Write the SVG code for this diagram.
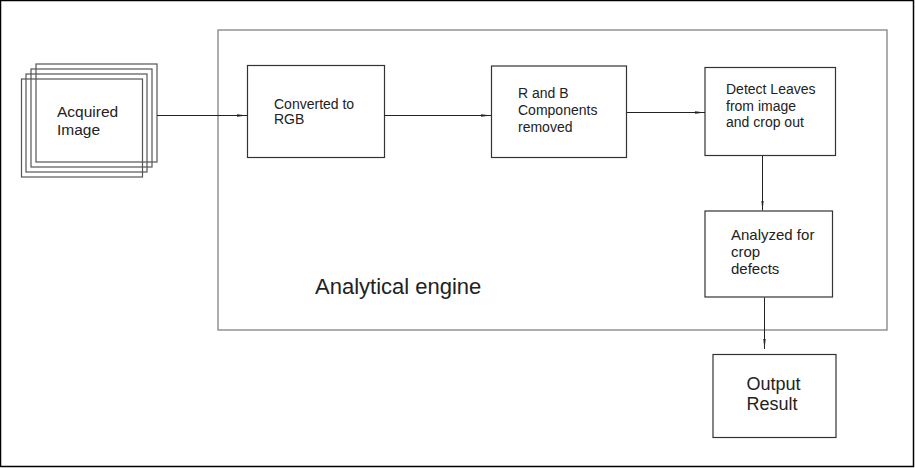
<svg xmlns="http://www.w3.org/2000/svg" width="915" height="468" viewBox="0 0 915 468">
<style>
.box{fill:none;stroke:#333;stroke-width:1.2}
.stack{fill:none;stroke:#555;stroke-width:1.2}
.engine{fill:none;stroke:#8a8a8a;stroke-width:1.4}
.conn{stroke:#222;stroke-width:1;fill:none}
text{font-family:"Liberation Sans",Arial,sans-serif;fill:#222}
.t14{font-size:14px}
.t15{font-size:15px}
</style>
<defs>
<marker id="ah" viewBox="0 0 10 4" refX="10" refY="2" markerWidth="10" markerHeight="4" markerUnits="userSpaceOnUse" orient="auto">
<path d="M0,0.8 L10,2 L0,3.2 Z" fill="#222"/>
</marker>
</defs>
<rect x="0.5" y="0.5" width="913" height="466" fill="#fff" stroke="#000" stroke-width="1.5"/>
<g id="engine">
<rect class="engine" x="218" y="30" width="669" height="300"/>
<text x="315" y="294" style="font-size:22px">Analytical engine</text>
</g>
<g id="acquired">
<rect class="stack" x="36" y="64" width="121" height="98"/>
<rect class="stack" x="31" y="69" width="121" height="98"/>
<rect class="stack" x="26" y="74" width="121" height="98"/>
<rect class="stack" x="21.5" y="79" width="121" height="98"/>
<text x="57" y="117" style="font-size:15.5px">Acquired</text>
<text x="57" y="135" style="font-size:15.5px">Image</text>
</g>
<g id="rgb">
<rect class="box" x="247.5" y="65.5" width="137" height="92"/>
<text class="t14" x="274" y="109">Converted to</text>
<text class="t14" x="274" y="124">RGB</text>
</g>
<g id="rb">
<rect class="box" x="491.5" y="66" width="135" height="91.5"/>
<text class="t14" x="518" y="98">R and B</text>
<text class="t14" x="518" y="115">Components</text>
<text class="t14" x="518" y="132">removed</text>
</g>
<g id="detect">
<rect class="box" x="705" y="67.5" width="130.5" height="88"/>
<text class="t14" x="726" y="94">Detect Leaves</text>
<text class="t14" x="726" y="110.5">from image</text>
<text class="t14" x="726" y="127">and crop out</text>
</g>
<g id="analyzed">
<rect class="box" x="705" y="211" width="127.5" height="86"/>
<text class="t15" x="731" y="240">Analyzed for</text>
<text class="t15" x="731" y="257">crop</text>
<text class="t15" x="731" y="274">defects</text>
</g>
<g id="output">
<rect class="box" x="713" y="354.5" width="123" height="83"/>
<text x="746.5" y="390" style="font-size:18px">Output</text>
<text x="746.5" y="410" style="font-size:18px">Result</text>
</g>
<g id="connectors">
<line class="conn" x1="157" y1="115.5" x2="247" y2="115.5" marker-end="url(#ah)"/>
<line class="conn" x1="384.5" y1="115.5" x2="491" y2="115.5" marker-end="url(#ah)"/>
<line class="conn" x1="627" y1="112.5" x2="705" y2="112.5" marker-end="url(#ah)"/>
<line class="conn" x1="762.5" y1="156" x2="762.5" y2="210.5" marker-end="url(#ah)"/>
<line class="conn" x1="764.5" y1="297.5" x2="764.5" y2="349" marker-end="url(#ah)"/>
</g>
</svg>
